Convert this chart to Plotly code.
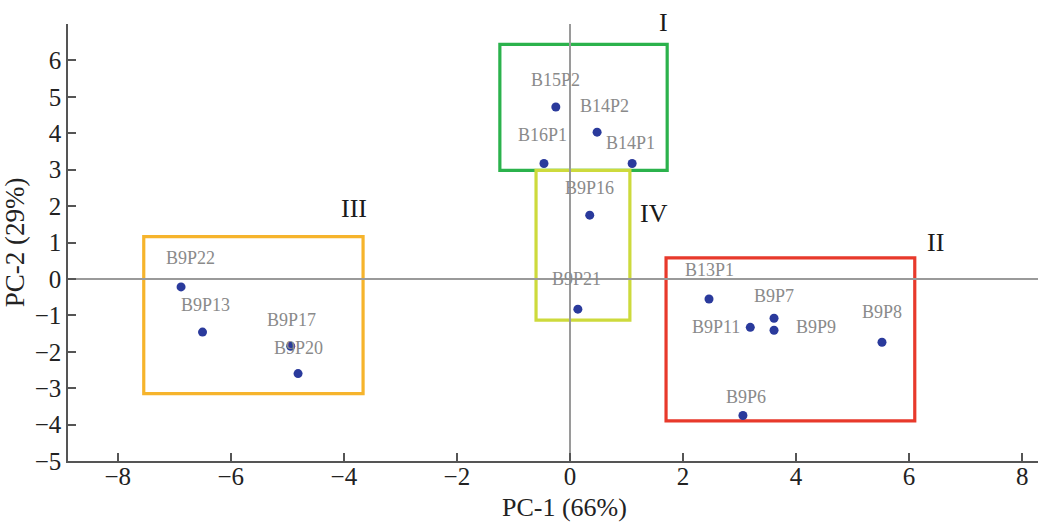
import plotly.graph_objects as go

# PCA scores of the isolates
names = ["B15P2", "B14P2", "B16P1", "B14P1", "B9P16", "B9P21",
         "B9P22", "B9P13", "B9P17", "B9P20",
         "B13P1", "B9P7", "B9P11", "B9P9", "B9P8", "B9P6"]
pc1 = [-0.25, 0.48, -0.46, 1.10, 0.35, 0.14,
       -6.88, -6.50, -4.94, -4.81,
       2.46, 3.61, 3.19, 3.61, 5.52, 3.06]
pc2 = [4.72, 4.03, 3.17, 3.17, 1.75, -0.83,
       -0.22, -1.46, -1.85, -2.60,
       -0.55, -1.08, -1.33, -1.41, -1.74, -3.75]

# Cluster boxes: name, x0, x1, y0, y1
groups = ["I", "IV", "III", "II"]
box_x0 = [-1.24, -0.60, -7.54, 1.70]
box_x1 = [1.72, 1.06, -3.66, 6.10]
box_y0 = [2.98, -1.13, -3.15, -3.90]
box_y1 = [6.44, 2.98, 1.16, 0.58]
box_colors = ["#2bb24c", "#cdda3c", "#f6b42c", "#e8392b"]

# Group label anchor points
group_lx = [1.65, 1.49, -3.82, 6.46]
group_ly = [6.95, 1.80, 1.93, 1.01]
group_dy = [3, 0, 0, 0]

# Pixel offsets of the point labels (dx, dy)
label_dx = [0, 7, -1, -2, 0, -1, 9, 3, 1, 0, 0, 0, -34, 42, 0, 3]
label_dy = [27, 26, 28, 20, 27, 30, 29, 27, 26, 26, 29, 22, 0, 3, 30, 18]

serif = "Liberation Serif"

fig = go.Figure()

for g, x0, x1, y0, y1, c in zip(groups, box_x0, box_x1, box_y0, box_y1, box_colors):
    fig.add_shape(type="rect", x0=x0, x1=x1, y0=y0, y1=y1,
                  line=dict(color=c, width=3.2), layer="below")

fig.add_trace(go.Scatter(
    x=pc1, y=pc2, mode="markers",
    marker=dict(color="#2a3a9c", size=9),
    showlegend=False,
))

for n, x, y, dx, dy in zip(names, pc1, pc2, label_dx, label_dy):
    fig.add_annotation(x=x, y=y, text=n, showarrow=False,
                       xshift=dx, yshift=dy,
                       font=dict(family=serif, size=18, color="#8a8a8a"))

for g, x, y, dy in zip(groups, group_lx, group_ly, group_dy):
    fig.add_annotation(x=x, y=y, text=g, showarrow=False, yshift=dy,
                       font=dict(family=serif, size=26, color="#1a1a1a"))

# x-axis title, set just below the tick labels
fig.add_annotation(xref="paper", yref="paper", x=0.5, y=0, yshift=-46,
                   text="PC-1 (66%)", showarrow=False, yanchor="middle",
                   xanchor="center", xshift=11,
                   font=dict(family=serif, size=26, color="#222"))

fig.update_layout(
    width=1038, height=522,
    margin=dict(l=68, r=0, t=24, b=61),
    plot_bgcolor="white", paper_bgcolor="white",
    font=dict(family=serif, size=25, color="#222"),
)
fig.update_xaxes(
    range=[-8.88, 8.28], tickvals=[-8, -6, -4, -2, 0, 2, 4, 6, 8],
    ticktext=["\u22128", "\u22126", "\u22124", "\u22122", "0", "2", "4", "6", "8"],
    tickfont=dict(family=serif, size=25, color="#222"),
    ticklabelstandoff=-8,
    ticks="inside", ticklen=8, tickcolor="#555", tickwidth=1.5,
    showline=True, linecolor="#555", linewidth=1.5,
    showgrid=False, zeroline=True, zerolinecolor="#9a9a9a", zerolinewidth=1.5,
)
fig.update_yaxes(
    range=[-5.0, 7.0], tickvals=list(range(-5, 7)),
    ticktext=["\u22125", "\u22124", "\u22123", "\u22122", "\u22121", "0",
              "1", "2", "3", "4", "5", "6"],
    tickfont=dict(family=serif, size=25, color="#222"),
    ticks="inside", ticklen=8, tickcolor="#555", tickwidth=1.5,
    showline=True, linecolor="#555", linewidth=1.5,
    showgrid=False, zeroline=True, zerolinecolor="#9a9a9a", zerolinewidth=1.5,
    title=dict(text="PC-2 (29%)", standoff=2, font=dict(size=27)),
)

fig.write_html("out.html")
